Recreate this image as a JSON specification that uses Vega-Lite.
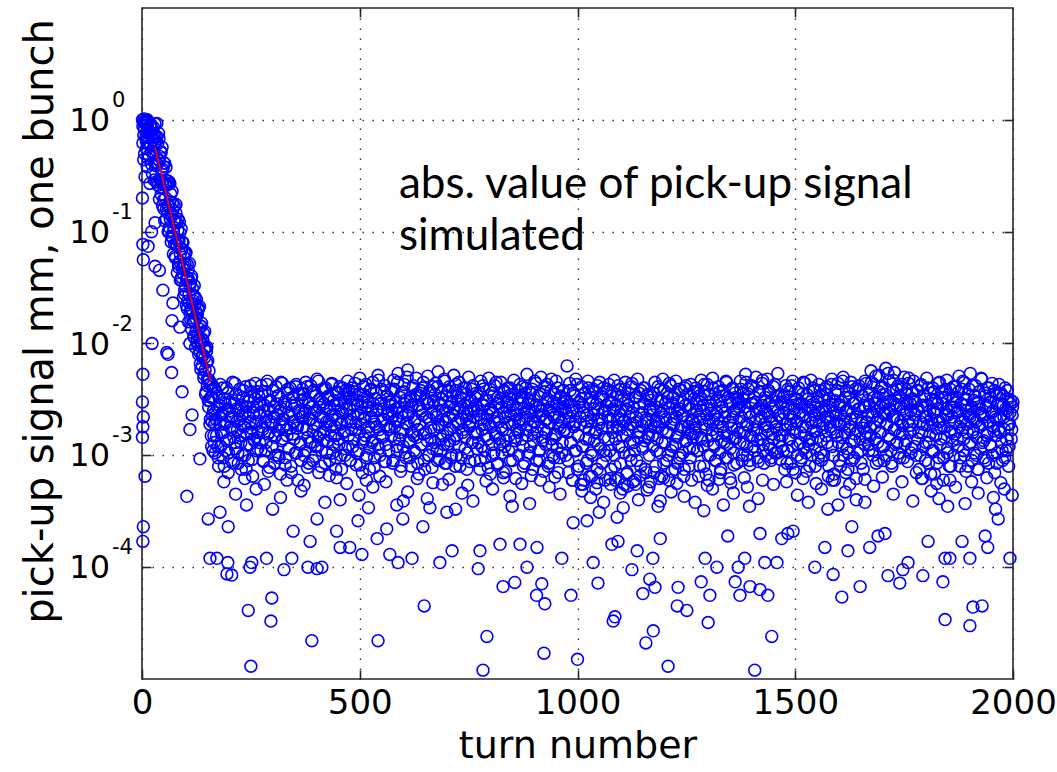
{
  "$schema": "https://vega.github.io/schema/vega-lite/v6.json",
  "width": 871,
  "height": 671,
  "autosize": {"type": "none"},
  "padding": {"left": 142, "top": 8, "right": 44, "bottom": 93},
  "background": "white",
  "config": {
    "view": {"stroke": "#262626", "strokeWidth": 1.6},
    "font": "DejaVu Sans"
  },
  "datasets": {
    "signal": [
      {"t":1,"v":1.0},{"t":2,"v":0.62},{"t":3,"v":0.95},{"t":4,"v":0.44},{"t":5,"v":1.02},{"t":6,"v":0.82},{"t":7,"v":0.31},{"t":8,"v":0.98},{"t":9,"v":0.7},{"t":10,"v":0.55},
      {"t":11,"v":0.9},{"t":12,"v":0.38},{"t":13,"v":0.85},{"t":14,"v":0.62},{"t":15,"v":0.96},{"t":16,"v":0.48},{"t":17,"v":0.78},{"t":18,"v":0.27},{"t":19,"v":0.88},{"t":20,"v":0.58},
      {"t":21,"v":0.72},{"t":22,"v":0.4},{"t":23,"v":0.83},{"t":24,"v":0.33},{"t":25,"v":0.66},{"t":26,"v":0.5},{"t":27,"v":0.75},{"t":28,"v":0.29},{"t":29,"v":0.6},
      {"t":30,"v":0.92},{"t":31,"v":0.39},{"t":32,"v":0.64},{"t":33,"v":0.28},{"t":34,"v":0.93},{"t":35,"v":0.4},{"t":36,"v":0.61},{"t":37,"v":0.26},{"t":38,"v":0.44},{"t":39,"v":0.68},
      {"t":40,"v":0.195},{"t":41,"v":0.47},{"t":42,"v":0.29},{"t":43,"v":0.52},{"t":44,"v":0.215},{"t":45,"v":0.35},{"t":46,"v":0.57},{"t":47,"v":0.171},{"t":48,"v":0.27},{"t":49,"v":0.385},
      {"t":50,"v":0.194},{"t":51,"v":0.41},{"t":52,"v":0.125},{"t":53,"v":0.265},{"t":54,"v":0.2},{"t":55,"v":0.376},{"t":56,"v":0.13},{"t":57,"v":0.26},{"t":58,"v":0.148},{"t":59,"v":0.268},
      {"t":60,"v":0.1},{"t":61,"v":0.175},{"t":62,"v":0.28},{"t":63,"v":0.109},{"t":64,"v":0.186},{"t":65,"v":0.13},{"t":66,"v":0.217},{"t":67,"v":0.081},{"t":68,"v":0.143},{"t":69,"v":0.23},
      {"t":70,"v":0.088},{"t":71,"v":0.156},{"t":72,"v":0.063},{"t":73,"v":0.109},{"t":74,"v":0.171},{"t":75,"v":0.077},{"t":76,"v":0.125},{"t":77,"v":0.058},{"t":78,"v":0.175},{"t":79,"v":0.076},
      {"t":80,"v":0.12},{"t":81,"v":0.043},{"t":82,"v":0.083},{"t":83,"v":0.129},{"t":84,"v":0.048},{"t":85,"v":0.084},{"t":86,"v":0.054},{"t":87,"v":0.098},{"t":88,"v":0.037},{"t":89,"v":0.07},
      {"t":90,"v":0.106},{"t":91,"v":0.039},{"t":92,"v":0.07},{"t":93,"v":0.047},{"t":94,"v":0.08},{"t":95,"v":0.026},{"t":96,"v":0.049},{"t":97,"v":0.065},{"t":98,"v":0.0275},{"t":99,"v":0.051},
      {"t":100,"v":0.033},{"t":101,"v":0.065},{"t":102,"v":0.022},{"t":103,"v":0.039},{"t":104,"v":0.051},{"t":105,"v":0.024},{"t":106,"v":0.038},{"t":107,"v":0.0156},{"t":108,"v":0.0276},{"t":109,"v":0.052},
      {"t":110,"v":0.0187},{"t":111,"v":0.035},{"t":112,"v":0.02},{"t":113,"v":0.038},{"t":114,"v":0.0134},{"t":115,"v":0.0227},{"t":116,"v":0.031},{"t":117,"v":0.0158},{"t":118,"v":0.024},{"t":119,"v":0.0116},
      {"t":120,"v":0.033},{"t":121,"v":0.0158},{"t":122,"v":0.0226},{"t":123,"v":0.0092},{"t":124,"v":0.0168},{"t":125,"v":0.0248},{"t":126,"v":0.0105},{"t":127,"v":0.018},{"t":128,"v":0.0117},{"t":129,"v":0.02},
      {"t":130,"v":0.008},{"t":131,"v":0.0136},{"t":132,"v":0.0214},{"t":133,"v":0.0084},{"t":134,"v":0.0143},{"t":135,"v":0.0059},{"t":136,"v":0.0102},{"t":137,"v":0.0152},{"t":138,"v":0.0063},{"t":139,"v":0.0109},
      {"t":140,"v":0.0079},{"t":141,"v":0.0123},{"t":142,"v":0.0049},{"t":143,"v":0.009},{"t":144,"v":0.0128},{"t":145,"v":0.0058},{"t":146,"v":0.0091},{"t":147,"v":0.0037},{"t":148,"v":0.0068},{"t":149,"v":0.0093},
      {"t":150,"v":0.0042},{"t":151,"v":0.007},{"t":152,"v":0.0048},{"t":153,"v":0.0027},{"t":154,"v":0.0057},{"t":155,"v":0.0031},{"t":156,"v":0.0043},{"t":157,"v":0.0021},{"t":158,"v":0.0044},{"t":159,"v":0.0015},
      {"t":160,"v":0.0033},{"t":161,"v":0.002},{"t":162,"v":0.0042},{"t":163,"v":0.0011},{"t":164,"v":0.0025},{"t":165,"v":0.0015},{"t":166,"v":0.004},{"t":167,"v":0.0019},{"t":168,"v":0.00105},
      {"t":2,"v":0.88},{"t":4,"v":0.73},{"t":6,"v":0.5},{"t":8,"v":0.93},{"t":10,"v":0.64},{"t":12,"v":1.0},{"t":14,"v":0.45},{"t":16,"v":0.8},{"t":18,"v":0.6},{"t":20,"v":0.92},
      {"t":22,"v":0.52},{"t":24,"v":0.7},{"t":26,"v":0.86},{"t":28,"v":0.42},{"t":30,"v":0.72},{"t":32,"v":0.42},{"t":34,"v":0.71},{"t":36,"v":0.28},{"t":38,"v":0.76},{"t":40,"v":0.43},
      {"t":42,"v":0.25},{"t":44,"v":0.51},{"t":46,"v":0.28},{"t":48,"v":0.36},{"t":50,"v":0.16},{"t":52,"v":0.41},{"t":54,"v":0.26},{"t":56,"v":0.16},{"t":58,"v":0.285},{"t":60,"v":0.17},
      {"t":62,"v":0.1},{"t":64,"v":0.27},{"t":66,"v":0.14},{"t":68,"v":0.091},{"t":70,"v":0.18},{"t":72,"v":0.099},{"t":74,"v":0.128},{"t":76,"v":0.06},{"t":78,"v":0.147},{"t":80,"v":0.077},
      {"t":82,"v":0.103},{"t":84,"v":0.051},{"t":86,"v":0.122},{"t":88,"v":0.063},{"t":90,"v":0.037},{"t":92,"v":0.081},{"t":94,"v":0.0425},{"t":96,"v":0.059},{"t":98,"v":0.03},{"t":100,"v":0.064},
      {"t":102,"v":0.037},{"t":104,"v":0.0204},{"t":106,"v":0.045},{"t":108,"v":0.0232},{"t":110,"v":0.033},{"t":112,"v":0.0163},{"t":114,"v":0.04},{"t":116,"v":0.0198},{"t":118,"v":0.027},{"t":120,"v":0.0113},
      {"t":122,"v":0.026},{"t":124,"v":0.0128},{"t":126,"v":0.0188},{"t":128,"v":0.0097},{"t":130,"v":0.0206},{"t":132,"v":0.0107},{"t":134,"v":0.0066},{"t":136,"v":0.0143},{"t":138,"v":0.0076},{"t":140,"v":0.0106},
      {"t":142,"v":0.0053},{"t":144,"v":0.0075},{"t":146,"v":0.0035},{"t":148,"v":0.0085},{"t":150,"v":0.0048},{"t":152,"v":0.0031},{"t":154,"v":0.0047},{"t":156,"v":0.0019},{"t":158,"v":0.0033},{"t":160,"v":0.0012},
      {"t":162,"v":0.0023},{"t":164,"v":0.0032},{"t":166,"v":0.0013},{"t":168,"v":0.0024},
      {"t":1,"v":0.2},{"t":2,"v":0.077},{"t":3,"v":0.056},{"t":2,"v":0.0053},{"t":1,"v":0.003},{"t":3,"v":0.0022},{"t":2,"v":0.0018},{"t":1,"v":0.00145},{"t":7,"v":0.00065},{"t":3,"v":0.00023},{"t":2,"v":0.00017},{"t":23,"v":0.01},
      {"t":14,"v":0.074},{"t":30,"v":0.12},{"t":30,"v":0.049},{"t":48,"v":0.03},{"t":71,"v":0.023},{"t":69,"v":0.016},{"t":57,"v":0.0083},{"t":87,"v":0.014},{"t":110,"v":0.01},{"t":60,"v":0.008},
      {"t":68,"v":0.0055},{"t":92,"v":0.0037},{"t":115,"v":0.0023},{"t":110,"v":0.0017},{"t":133,"v":0.00093},{"t":103,"v":0.00043},{"t":40,"v":0.045},{"t":22,"v":0.1},
      {"t":170,"v":0.0021},{"t":172,"v":0.0036},{"t":174,"v":0.0012},{"t":176,"v":0.0008},{"t":178,"v":0.0028},{"t":180,"v":0.0043},{"t":182,"v":0.0016},{"t":184,"v":0.0024},{"t":186,"v":0.00095},{"t":188,"v":0.0032},
      {"t":190,"v":0.0019},{"t":192,"v":0.0011},{"t":194,"v":0.004},{"t":196,"v":0.0026},{"t":198,"v":0.0007},{"t":200,"v":0.0014},{"t":202,"v":0.003},{"t":204,"v":0.0022},{"t":206,"v":0.0017},{"t":208,"v":0.0045},
      {"t":210,"v":0.00085},{"t":212,"v":0.0029},{"t":214,"v":0.0013},{"t":216,"v":0.0035},{"t":218,"v":0.002},{"t":220,"v":0.00105},{"t":222,"v":0.0025},{"t":224,"v":0.0039},{"t":226,"v":0.0015},{"t":228,"v":0.00075},
      {"t":230,"v":0.0023},{"t":232,"v":0.0033},{"t":234,"v":0.0018},{"t":236,"v":0.001},{"t":238,"v":0.0041},{"t":240,"v":0.0027},{"t":242,"v":0.00125},{"t":244,"v":0.0009},{"t":246,"v":0.0031},{"t":248,"v":0.002},
      {"t":250,"v":0.0016},{"t":252,"v":0.0037},{"t":254,"v":0.00065},{"t":256,"v":0.0024},{"t":258,"v":0.00135},{"t":260,"v":0.0044},{"t":262,"v":0.0019},{"t":264,"v":0.0028},{"t":266,"v":0.00115},{"t":268,"v":0.0034},
      {"t":270,"v":0.0013},{"t":272,"v":0.0029},{"t":274,"v":0.0042},{"t":276,"v":0.0018},{"t":278,"v":0.0009},{"t":280,"v":0.0025},{"t":282,"v":0.0037},{"t":284,"v":0.0011},{"t":286,"v":0.0022},{"t":288,"v":0.0046},
      {"t":290,"v":0.00072},{"t":292,"v":0.0016},{"t":294,"v":0.0031},{"t":296,"v":0.002},{"t":298,"v":0.0012},{"t":300,"v":0.0038},{"t":302,"v":0.0027},{"t":304,"v":0.00085},{"t":306,"v":0.0015},{"t":308,"v":0.0041},
      {"t":310,"v":0.0023},{"t":312,"v":0.001},{"t":314,"v":0.0034},{"t":316,"v":0.0019},{"t":318,"v":0.00068},{"t":320,"v":0.0026},{"t":322,"v":0.0044},{"t":324,"v":0.0014},{"t":326,"v":0.0021},{"t":328,"v":0.003},
      {"t":330,"v":0.00095},{"t":332,"v":0.0017},{"t":334,"v":0.0036},{"t":336,"v":0.0024},{"t":338,"v":0.00115},{"t":340,"v":0.004},{"t":342,"v":0.0008},{"t":344,"v":0.0028},{"t":346,"v":0.00155},{"t":348,"v":0.0033},
      {"t":350,"v":0.002},{"t":352,"v":0.00105},{"t":354,"v":0.0043},{"t":356,"v":0.00175},{"t":358,"v":0.0006},{"t":360,"v":0.0025},{"t":362,"v":0.0035},{"t":364,"v":0.0013},{"t":366,"v":0.0022},{"t":368,"v":0.0039},
      {"t":370,"v":0.0035},{"t":372,"v":0.001},{"t":374,"v":0.0024},{"t":376,"v":0.0045},{"t":378,"v":0.0017},{"t":380,"v":0.00078},{"t":382,"v":0.003},{"t":384,"v":0.0021},{"t":386,"v":0.0013},{"t":388,"v":0.0042},
      {"t":390,"v":0.0027},{"t":392,"v":0.0009},{"t":394,"v":0.0019},{"t":396,"v":0.0036},{"t":398,"v":0.0012},{"t":400,"v":0.0025},{"t":402,"v":0.0048},{"t":404,"v":0.00145},{"t":406,"v":0.0007},{"t":408,"v":0.0032},
      {"t":410,"v":0.0022},{"t":412,"v":0.0011},{"t":414,"v":0.0039},{"t":416,"v":0.0016},{"t":418,"v":0.0029},{"t":420,"v":0.00085},{"t":422,"v":0.004},{"t":424,"v":0.002},{"t":426,"v":0.00135},{"t":428,"v":0.0034},
      {"t":430,"v":0.00066},{"t":432,"v":0.0026},{"t":434,"v":0.0018},{"t":436,"v":0.0044},{"t":438,"v":0.00105},{"t":440,"v":0.0031},{"t":442,"v":0.0023},{"t":444,"v":0.0015},{"t":446,"v":0.00095},{"t":448,"v":0.0037},
      {"t":450,"v":0.0028},{"t":452,"v":0.00125},{"t":454,"v":0.0041},{"t":456,"v":0.0019},{"t":458,"v":0.00075},{"t":460,"v":0.0024},{"t":462,"v":0.0033},{"t":464,"v":0.00165},{"t":466,"v":0.001},{"t":468,"v":0.0038},
      {"t":470,"v":0.0026},{"t":472,"v":0.0046},{"t":474,"v":0.0015},{"t":476,"v":0.0033},{"t":478,"v":0.0009},{"t":480,"v":0.002},{"t":482,"v":0.004},{"t":484,"v":0.0012},{"t":486,"v":0.0028},{"t":488,"v":0.0037},
      {"t":490,"v":0.0017},{"t":492,"v":0.00082},{"t":494,"v":0.0031},{"t":496,"v":0.0023},{"t":498,"v":0.0011},{"t":500,"v":0.0049},{"t":502,"v":0.0019},{"t":504,"v":0.0027},{"t":506,"v":0.0007},{"t":508,"v":0.0035},
      {"t":510,"v":0.0014},{"t":512,"v":0.0022},{"t":514,"v":0.0043},{"t":516,"v":0.001},{"t":518,"v":0.003},{"t":520,"v":0.0016},{"t":522,"v":0.00075},{"t":524,"v":0.0038},{"t":526,"v":0.0025},{"t":528,"v":0.0013},
      {"t":530,"v":0.0045},{"t":532,"v":0.002},{"t":534,"v":0.00095},{"t":536,"v":0.0032},{"t":538,"v":0.0018},{"t":540,"v":0.0026},{"t":542,"v":0.0052},{"t":544,"v":0.00115},{"t":546,"v":0.00065},{"t":548,"v":0.0029},
      {"t":550,"v":0.0039},{"t":552,"v":0.0015},{"t":554,"v":0.0021},{"t":556,"v":0.00088},{"t":558,"v":0.0042},{"t":560,"v":0.00125},{"t":562,"v":0.0034},{"t":564,"v":0.0024},{"t":566,"v":0.0017},{"t":568,"v":0.003},
      {"t":570,"v":0.0018},{"t":572,"v":0.0039},{"t":574,"v":0.0025},{"t":576,"v":0.00085},{"t":578,"v":0.0047},{"t":580,"v":0.0014},{"t":582,"v":0.003},{"t":584,"v":0.0021},{"t":586,"v":0.0011},{"t":588,"v":0.0054},
      {"t":590,"v":0.0027},{"t":592,"v":0.0016},{"t":594,"v":0.00072},{"t":596,"v":0.0036},{"t":598,"v":0.0022},{"t":600,"v":0.0012},{"t":602,"v":0.0043},{"t":604,"v":0.0031},{"t":606,"v":0.00095},{"t":608,"v":0.0019},
      {"t":610,"v":0.0058},{"t":612,"v":0.0024},{"t":614,"v":0.00135},{"t":616,"v":0.0033},{"t":618,"v":0.0008},{"t":620,"v":0.0028},{"t":622,"v":0.004},{"t":624,"v":0.0015},{"t":626,"v":0.002},{"t":628,"v":0.00105},
      {"t":630,"v":0.0049},{"t":632,"v":0.0035},{"t":634,"v":0.0017},{"t":636,"v":0.00068},{"t":638,"v":0.0026},{"t":640,"v":0.0038},{"t":642,"v":0.00125},{"t":644,"v":0.0023},{"t":646,"v":0.0045},{"t":648,"v":0.0009},
      {"t":650,"v":0.0032},{"t":652,"v":0.0016},{"t":654,"v":0.0029},{"t":656,"v":0.0051},{"t":658,"v":0.001},{"t":660,"v":0.0021},{"t":662,"v":0.0036},{"t":664,"v":0.0014},{"t":666,"v":0.00078},{"t":668,"v":0.0041},
      {"t":670,"v":0.0031},{"t":672,"v":0.0013},{"t":674,"v":0.0044},{"t":676,"v":0.0022},{"t":678,"v":0.0009},{"t":680,"v":0.0056},{"t":682,"v":0.0018},{"t":684,"v":0.0029},{"t":686,"v":0.0011},{"t":688,"v":0.0037},
      {"t":690,"v":0.0025},{"t":692,"v":0.0015},{"t":694,"v":0.0048},{"t":696,"v":0.00085},{"t":698,"v":0.002},{"t":700,"v":0.0034},{"t":702,"v":0.00125},{"t":704,"v":0.0027},{"t":706,"v":0.0041},{"t":708,"v":0.0017},
      {"t":710,"v":0.00095},{"t":712,"v":0.003},{"t":714,"v":0.0023},{"t":716,"v":0.0052},{"t":718,"v":0.0014},{"t":720,"v":0.0038},{"t":722,"v":0.001},{"t":724,"v":0.0026},{"t":726,"v":0.0019},{"t":728,"v":0.0045},
      {"t":730,"v":0.0008},{"t":732,"v":0.0033},{"t":734,"v":0.0021},{"t":736,"v":0.0016},{"t":738,"v":0.004},{"t":740,"v":0.0028},{"t":742,"v":0.00115},{"t":744,"v":0.0035},{"t":746,"v":0.00075},{"t":748,"v":0.0024},
      {"t":750,"v":0.005},{"t":752,"v":0.0018},{"t":754,"v":0.002},{"t":756,"v":0.0031},{"t":758,"v":0.0013},{"t":760,"v":0.0042},{"t":762,"v":0.0026},{"t":764,"v":0.0009},{"t":766,"v":0.00155},{"t":768,"v":0.0036},
      {"t":770,"v":0.0016},{"t":772,"v":0.0034},{"t":774,"v":0.0023},{"t":776,"v":0.00075},{"t":778,"v":0.0046},{"t":780,"v":0.0012},{"t":782,"v":0.0028},{"t":784,"v":0.0039},{"t":786,"v":0.0019},{"t":788,"v":0.00095},
      {"t":790,"v":0.0031},{"t":792,"v":0.0021},{"t":794,"v":0.0014},{"t":796,"v":0.0049},{"t":798,"v":0.0026},{"t":800,"v":0.00068},{"t":802,"v":0.0018},{"t":804,"v":0.0036},{"t":806,"v":0.0024},{"t":808,"v":0.00105},
      {"t":810,"v":0.0042},{"t":812,"v":0.0015},{"t":814,"v":0.0029},{"t":816,"v":0.00082},{"t":818,"v":0.0033},{"t":820,"v":0.002},{"t":822,"v":0.00125},{"t":824,"v":0.0045},{"t":826,"v":0.0027},{"t":828,"v":0.0017},
      {"t":830,"v":0.0007},{"t":832,"v":0.0038},{"t":834,"v":0.0022},{"t":836,"v":0.00135},{"t":838,"v":0.003},{"t":840,"v":0.004},{"t":842,"v":0.0011},{"t":844,"v":0.0025},{"t":846,"v":0.0009},{"t":848,"v":0.0035},
      {"t":850,"v":0.0019},{"t":852,"v":0.0028},{"t":854,"v":0.0047},{"t":856,"v":0.00145},{"t":858,"v":0.00062},{"t":860,"v":0.0023},{"t":862,"v":0.0032},{"t":864,"v":0.0016},{"t":866,"v":0.002},{"t":868,"v":0.0043},
      {"t":870,"v":0.0029},{"t":872,"v":0.0014},{"t":874,"v":0.0041},{"t":876,"v":0.0008},{"t":878,"v":0.0024},{"t":880,"v":0.0036},{"t":882,"v":0.0017},{"t":884,"v":0.0053},{"t":886,"v":0.001},{"t":888,"v":0.0026},
      {"t":890,"v":0.0031},{"t":892,"v":0.0012},{"t":894,"v":0.00066},{"t":896,"v":0.0039},{"t":898,"v":0.002},{"t":900,"v":0.00155},{"t":902,"v":0.0046},{"t":904,"v":0.0028},{"t":906,"v":0.0009},{"t":908,"v":0.0018},
      {"t":910,"v":0.0034},{"t":912,"v":0.0022},{"t":914,"v":0.0011},{"t":916,"v":0.005},{"t":918,"v":0.0025},{"t":920,"v":0.00135},{"t":922,"v":0.00072},{"t":924,"v":0.0037},{"t":926,"v":0.0021},{"t":928,"v":0.0016},
      {"t":930,"v":0.0043},{"t":932,"v":0.003},{"t":934,"v":0.00085},{"t":936,"v":0.00195},{"t":938,"v":0.0027},{"t":940,"v":0.0048},{"t":942,"v":0.00125},{"t":944,"v":0.0023},{"t":946,"v":0.00095},{"t":948,"v":0.0035},
      {"t":950,"v":0.0015},{"t":952,"v":0.0029},{"t":954,"v":0.004},{"t":956,"v":0.0007},{"t":958,"v":0.0022},{"t":960,"v":0.00175},{"t":962,"v":0.0033},{"t":964,"v":0.00105},{"t":966,"v":0.0026},{"t":968,"v":0.0038},
      {"t":970,"v":0.0017},{"t":972,"v":0.0032},{"t":974,"v":0.0024},{"t":976,"v":0.0063},{"t":978,"v":0.0009},{"t":980,"v":0.002},{"t":982,"v":0.0044},{"t":984,"v":0.0013},{"t":986,"v":0.0028},{"t":988,"v":0.0006},
      {"t":990,"v":0.0036},{"t":992,"v":0.0019},{"t":994,"v":0.0011},{"t":996,"v":0.0048},{"t":998,"v":0.0025},{"t":1000,"v":0.00075},{"t":1002,"v":0.0015},{"t":1004,"v":0.003},{"t":1006,"v":0.0022},{"t":1008,"v":0.00055},
      {"t":1010,"v":0.0041},{"t":1012,"v":0.0012},{"t":1014,"v":0.0027},{"t":1016,"v":0.0035},{"t":1018,"v":0.0018},{"t":1020,"v":0.00085},{"t":1022,"v":0.0023},{"t":1024,"v":0.0046},{"t":1026,"v":0.0014},{"t":1028,"v":0.00065},
      {"t":1030,"v":0.0033},{"t":1032,"v":0.002},{"t":1034,"v":0.001},{"t":1036,"v":0.0039},{"t":1038,"v":0.0026},{"t":1040,"v":0.0016},{"t":1042,"v":0.0005},{"t":1044,"v":0.0029},{"t":1046,"v":0.0042},{"t":1048,"v":0.00125},
      {"t":1050,"v":0.0021},{"t":1052,"v":0.0007},{"t":1054,"v":0.0034},{"t":1056,"v":0.00175},{"t":1058,"v":0.0024},{"t":1060,"v":0.004},{"t":1062,"v":0.0011},{"t":1064,"v":0.0006},{"t":1066,"v":0.0028},{"t":1068,"v":0.0037},
      {"t":1070,"v":0.0022},{"t":1072,"v":0.0043},{"t":1074,"v":0.0011},{"t":1076,"v":0.00055},{"t":1078,"v":0.003},{"t":1080,"v":0.0018},{"t":1082,"v":0.0026},{"t":1084,"v":0.0047},{"t":1086,"v":0.0008},{"t":1088,"v":0.0014},
      {"t":1090,"v":0.0035},{"t":1092,"v":0.0021},{"t":1094,"v":0.00062},{"t":1096,"v":0.0017},{"t":1098,"v":0.0039},{"t":1100,"v":0.0025},{"t":1102,"v":0.0012},{"t":1104,"v":0.0005},{"t":1106,"v":0.0032},{"t":1108,"v":0.002},
      {"t":1110,"v":0.0045},{"t":1112,"v":0.0015},{"t":1114,"v":0.0007},{"t":1116,"v":0.0028},{"t":1118,"v":0.0036},{"t":1120,"v":0.001},{"t":1122,"v":0.0019},{"t":1124,"v":0.0041},{"t":1126,"v":0.0024},{"t":1128,"v":0.00058},
      {"t":1130,"v":0.0013},{"t":1132,"v":0.0033},{"t":1134,"v":0.0022},{"t":1136,"v":0.0009},{"t":1138,"v":0.0048},{"t":1140,"v":0.0016},{"t":1142,"v":0.0027},{"t":1144,"v":0.00066},{"t":1146,"v":0.0038},{"t":1148,"v":0.00185},
      {"t":1150,"v":0.00115},{"t":1152,"v":0.0029},{"t":1154,"v":0.004},{"t":1156,"v":0.00075},{"t":1158,"v":0.002},{"t":1160,"v":0.0034},{"t":1162,"v":0.00145},{"t":1164,"v":0.00052},{"t":1166,"v":0.0025},{"t":1168,"v":0.0031},
      {"t":1170,"v":0.0034},{"t":1172,"v":0.0015},{"t":1174,"v":0.0026},{"t":1176,"v":0.0007},{"t":1178,"v":0.0045},{"t":1180,"v":0.002},{"t":1182,"v":0.0011},{"t":1184,"v":0.0031},{"t":1186,"v":0.0018},{"t":1188,"v":0.00062},
      {"t":1190,"v":0.0039},{"t":1192,"v":0.0024},{"t":1194,"v":0.0013},{"t":1196,"v":0.0048},{"t":1198,"v":0.00085},{"t":1200,"v":0.0022},{"t":1202,"v":0.0029},{"t":1204,"v":0.0016},{"t":1206,"v":0.0036},{"t":1208,"v":0.001},
      {"t":1210,"v":0.0006},{"t":1212,"v":0.0027},{"t":1214,"v":0.0042},{"t":1216,"v":0.0019},{"t":1218,"v":0.0012},{"t":1220,"v":0.0033},{"t":1222,"v":0.0021},{"t":1224,"v":0.00075},{"t":1226,"v":0.0046},{"t":1228,"v":0.00145},
      {"t":1230,"v":0.0025},{"t":1232,"v":0.003},{"t":1234,"v":0.00095},{"t":1236,"v":0.0017},{"t":1238,"v":0.0038},{"t":1240,"v":0.0023},{"t":1242,"v":0.00105},{"t":1244,"v":0.00065},{"t":1246,"v":0.004},{"t":1248,"v":0.0028},
      {"t":1250,"v":0.00135},{"t":1252,"v":0.0035},{"t":1254,"v":0.0018},{"t":1256,"v":0.0008},{"t":1258,"v":0.0026},{"t":1260,"v":0.0043},{"t":1262,"v":0.00155},{"t":1264,"v":0.002},{"t":1266,"v":0.00115},{"t":1268,"v":0.0032},
      {"t":1270,"v":0.0019},{"t":1272,"v":0.004},{"t":1274,"v":0.0025},{"t":1276,"v":0.0011},{"t":1278,"v":0.00065},{"t":1280,"v":0.0034},{"t":1282,"v":0.0021},{"t":1284,"v":0.0047},{"t":1286,"v":0.0014},{"t":1288,"v":0.0028},
      {"t":1290,"v":0.0008},{"t":1292,"v":0.0037},{"t":1294,"v":0.0017},{"t":1296,"v":0.0023},{"t":1298,"v":0.0043},{"t":1300,"v":0.001},{"t":1302,"v":0.0006},{"t":1304,"v":0.003},{"t":1306,"v":0.0026},{"t":1308,"v":0.0015},
      {"t":1310,"v":0.0049},{"t":1312,"v":0.002},{"t":1314,"v":0.0012},{"t":1316,"v":0.0035},{"t":1318,"v":0.0009},{"t":1320,"v":0.0024},{"t":1322,"v":0.0018},{"t":1324,"v":0.0041},{"t":1326,"v":0.0031},{"t":1328,"v":0.0007},
      {"t":1330,"v":0.00135},{"t":1332,"v":0.0027},{"t":1334,"v":0.0038},{"t":1336,"v":0.0016},{"t":1338,"v":0.0022},{"t":1340,"v":0.00095},{"t":1342,"v":0.0045},{"t":1344,"v":0.00125},{"t":1346,"v":0.0033},{"t":1348,"v":0.002},
      {"t":1350,"v":0.00062},{"t":1352,"v":0.0029},{"t":1354,"v":0.00175},{"t":1356,"v":0.004},{"t":1358,"v":0.00105},{"t":1360,"v":0.0025},{"t":1362,"v":0.0036},{"t":1364,"v":0.00145},{"t":1366,"v":0.00085},{"t":1368,"v":0.0032},
      {"t":1370,"v":0.003},{"t":1372,"v":0.0016},{"t":1374,"v":0.0046},{"t":1376,"v":0.0022},{"t":1378,"v":0.0009},{"t":1380,"v":0.0035},{"t":1382,"v":0.0013},{"t":1384,"v":0.0027},{"t":1386,"v":0.0053},{"t":1388,"v":0.0019},
      {"t":1390,"v":0.001},{"t":1392,"v":0.0039},{"t":1394,"v":0.0024},{"t":1396,"v":0.00082},{"t":1398,"v":0.0015},{"t":1400,"v":0.0042},{"t":1402,"v":0.0029},{"t":1404,"v":0.0012},{"t":1406,"v":0.0033},{"t":1408,"v":0.002},
      {"t":1410,"v":0.005},{"t":1412,"v":0.0017},{"t":1414,"v":0.00095},{"t":1416,"v":0.0026},{"t":1418,"v":0.0037},{"t":1420,"v":0.0014},{"t":1422,"v":0.0022},{"t":1424,"v":0.0044},{"t":1426,"v":0.0011},{"t":1428,"v":0.00085},
      {"t":1430,"v":0.0031},{"t":1432,"v":0.0025},{"t":1434,"v":0.0018},{"t":1436,"v":0.0048},{"t":1438,"v":0.00125},{"t":1440,"v":0.0029},{"t":1442,"v":0.0036},{"t":1444,"v":0.0009},{"t":1446,"v":0.002},{"t":1448,"v":0.00155},
      {"t":1450,"v":0.0041},{"t":1452,"v":0.0027},{"t":1454,"v":0.00105},{"t":1456,"v":0.0034},{"t":1458,"v":0.0017},{"t":1460,"v":0.0054},{"t":1462,"v":0.0023},{"t":1464,"v":0.00135},{"t":1466,"v":0.00092},{"t":1468,"v":0.003},
      {"t":1470,"v":0.0015},{"t":1472,"v":0.0033},{"t":1474,"v":0.0024},{"t":1476,"v":0.00075},{"t":1478,"v":0.0042},{"t":1480,"v":0.0019},{"t":1482,"v":0.0011},{"t":1484,"v":0.0028},{"t":1486,"v":0.0037},{"t":1488,"v":0.0014},
      {"t":1490,"v":0.00085},{"t":1492,"v":0.0022},{"t":1494,"v":0.0046},{"t":1496,"v":0.0017},{"t":1498,"v":0.0026},{"t":1500,"v":0.0007},{"t":1502,"v":0.0031},{"t":1504,"v":0.002},{"t":1506,"v":0.00125},{"t":1508,"v":0.004},
      {"t":1510,"v":0.0029},{"t":1512,"v":0.0016},{"t":1514,"v":0.00095},{"t":1516,"v":0.0035},{"t":1518,"v":0.0023},{"t":1520,"v":0.00115},{"t":1522,"v":0.0044},{"t":1524,"v":0.0018},{"t":1526,"v":0.00072},{"t":1528,"v":0.0027},
      {"t":1530,"v":0.0032},{"t":1532,"v":0.00135},{"t":1534,"v":0.0021},{"t":1536,"v":0.0047},{"t":1538,"v":0.001},{"t":1540,"v":0.0025},{"t":1542,"v":0.00165},{"t":1544,"v":0.0038},{"t":1546,"v":0.0008},{"t":1548,"v":0.002},
      {"t":1550,"v":0.003},{"t":1552,"v":0.00145},{"t":1554,"v":0.0043},{"t":1556,"v":0.0024},{"t":1558,"v":0.00105},{"t":1560,"v":0.0009},{"t":1562,"v":0.0034},{"t":1564,"v":0.0019},{"t":1566,"v":0.0026},{"t":1568,"v":0.0039},
      {"t":1570,"v":0.0025},{"t":1572,"v":0.0041},{"t":1574,"v":0.0013},{"t":1576,"v":0.00065},{"t":1578,"v":0.0032},{"t":1580,"v":0.002},{"t":1582,"v":0.0017},{"t":1584,"v":0.0048},{"t":1586,"v":0.0028},{"t":1588,"v":0.001},
      {"t":1590,"v":0.0006},{"t":1592,"v":0.0036},{"t":1594,"v":0.0023},{"t":1596,"v":0.0015},{"t":1598,"v":0.0044},{"t":1600,"v":0.0019},{"t":1602,"v":0.0027},{"t":1604,"v":0.0008},{"t":1606,"v":0.003},{"t":1608,"v":0.0012},
      {"t":1610,"v":0.005},{"t":1612,"v":0.0021},{"t":1614,"v":0.0016},{"t":1616,"v":0.0007},{"t":1618,"v":0.0038},{"t":1620,"v":0.0025},{"t":1622,"v":0.00105},{"t":1624,"v":0.0033},{"t":1626,"v":0.0018},{"t":1628,"v":0.0045},
      {"t":1630,"v":0.0009},{"t":1632,"v":0.0024},{"t":1634,"v":0.0029},{"t":1636,"v":0.00135},{"t":1638,"v":0.0039},{"t":1640,"v":0.00062},{"t":1642,"v":0.0022},{"t":1644,"v":0.00165},{"t":1646,"v":0.0042},{"t":1648,"v":0.0026},
      {"t":1650,"v":0.0011},{"t":1652,"v":0.0034},{"t":1654,"v":0.00195},{"t":1656,"v":0.00075},{"t":1658,"v":0.0028},{"t":1660,"v":0.0046},{"t":1662,"v":0.00145},{"t":1664,"v":0.002},{"t":1666,"v":0.0031},{"t":1668,"v":0.00125},
      {"t":1670,"v":0.0036},{"t":1672,"v":0.0018},{"t":1674,"v":0.0057},{"t":1676,"v":0.0024},{"t":1678,"v":0.001},{"t":1680,"v":0.0043},{"t":1682,"v":0.0029},{"t":1684,"v":0.0014},{"t":1686,"v":0.00085},{"t":1688,"v":0.0032},
      {"t":1690,"v":0.0021},{"t":1692,"v":0.0052},{"t":1694,"v":0.0016},{"t":1696,"v":0.0027},{"t":1698,"v":0.004},{"t":1700,"v":0.0012},{"t":1702,"v":0.0035},{"t":1704,"v":0.0009},{"t":1706,"v":0.0023},{"t":1708,"v":0.006},
      {"t":1710,"v":0.0019},{"t":1712,"v":0.003},{"t":1714,"v":0.0015},{"t":1716,"v":0.0046},{"t":1718,"v":0.0025},{"t":1720,"v":0.0011},{"t":1722,"v":0.0008},{"t":1724,"v":0.0038},{"t":1726,"v":0.0022},{"t":1728,"v":0.0055},
      {"t":1730,"v":0.0017},{"t":1732,"v":0.0028},{"t":1734,"v":0.0013},{"t":1736,"v":0.0042},{"t":1738,"v":0.0033},{"t":1740,"v":0.00095},{"t":1742,"v":0.002},{"t":1744,"v":0.0039},{"t":1746,"v":0.00155},{"t":1748,"v":0.0026},
      {"t":1750,"v":0.005},{"t":1752,"v":0.00125},{"t":1754,"v":0.0031},{"t":1756,"v":0.0024},{"t":1758,"v":0.00088},{"t":1760,"v":0.0044},{"t":1762,"v":0.00185},{"t":1764,"v":0.0029},{"t":1766,"v":0.00105},{"t":1768,"v":0.0036},
      {"t":1770,"v":0.002},{"t":1772,"v":0.0046},{"t":1774,"v":0.0012},{"t":1776,"v":0.003},{"t":1778,"v":0.0007},{"t":1780,"v":0.0025},{"t":1782,"v":0.0038},{"t":1784,"v":0.0016},{"t":1786,"v":0.001},{"t":1788,"v":0.0042},
      {"t":1790,"v":0.0027},{"t":1792,"v":0.00062},{"t":1794,"v":0.0019},{"t":1796,"v":0.0034},{"t":1798,"v":0.0022},{"t":1800,"v":0.0013},{"t":1802,"v":0.0049},{"t":1804,"v":0.0028},{"t":1806,"v":0.00085},{"t":1808,"v":0.0015},
      {"t":1810,"v":0.0036},{"t":1812,"v":0.0021},{"t":1814,"v":0.0011},{"t":1816,"v":0.004},{"t":1818,"v":0.0024},{"t":1820,"v":0.00068},{"t":1822,"v":0.0031},{"t":1824,"v":0.00175},{"t":1826,"v":0.0026},{"t":1828,"v":0.0044},
      {"t":1830,"v":0.00095},{"t":1832,"v":0.002},{"t":1834,"v":0.0014},{"t":1836,"v":0.0037},{"t":1838,"v":0.0029},{"t":1840,"v":0.0006},{"t":1842,"v":0.0018},{"t":1844,"v":0.0033},{"t":1846,"v":0.0023},{"t":1848,"v":0.0047},
      {"t":1850,"v":0.00115},{"t":1852,"v":0.0025},{"t":1854,"v":0.0008},{"t":1856,"v":0.0039},{"t":1858,"v":0.0016},{"t":1860,"v":0.0022},{"t":1862,"v":0.0032},{"t":1864,"v":0.001},{"t":1866,"v":0.0027},{"t":1868,"v":0.0041},
      {"t":1870,"v":0.0033},{"t":1872,"v":0.0014},{"t":1874,"v":0.0025},{"t":1876,"v":0.0051},{"t":1878,"v":0.0008},{"t":1880,"v":0.002},{"t":1882,"v":0.0039},{"t":1884,"v":0.0017},{"t":1886,"v":0.0011},{"t":1888,"v":0.0045},
      {"t":1890,"v":0.0028},{"t":1892,"v":0.00072},{"t":1894,"v":0.0019},{"t":1896,"v":0.0035},{"t":1898,"v":0.0023},{"t":1900,"v":0.00125},{"t":1902,"v":0.0054},{"t":1904,"v":0.0026},{"t":1906,"v":0.0009},{"t":1908,"v":0.0016},
      {"t":1910,"v":0.0031},{"t":1912,"v":0.0021},{"t":1914,"v":0.0042},{"t":1916,"v":0.001},{"t":1918,"v":0.0029},{"t":1920,"v":0.00075},{"t":1922,"v":0.0037},{"t":1924,"v":0.0018},{"t":1926,"v":0.0024},{"t":1928,"v":0.0048},
      {"t":1930,"v":0.0013},{"t":1932,"v":0.0022},{"t":1934,"v":0.00095},{"t":1936,"v":0.0034},{"t":1938,"v":0.0027},{"t":1940,"v":0.0015},{"t":1942,"v":0.004},{"t":1944,"v":0.00085},{"t":1946,"v":0.002},{"t":1948,"v":0.003},
      {"t":1950,"v":0.0012},{"t":1952,"v":0.0044},{"t":1954,"v":0.0025},{"t":1956,"v":0.00165},{"t":1958,"v":0.0007},{"t":1960,"v":0.0036},{"t":1962,"v":0.0021},{"t":1964,"v":0.00105},{"t":1966,"v":0.0028},{"t":1968,"v":0.0043},
      {"t":1970,"v":0.0022},{"t":1972,"v":0.0036},{"t":1974,"v":0.0013},{"t":1976,"v":0.0009},{"t":1978,"v":0.0028},{"t":1980,"v":0.0017},{"t":1982,"v":0.004},{"t":1984,"v":0.0011},{"t":1986,"v":0.0025},{"t":1988,"v":0.0032},
      {"t":1990,"v":0.0008},{"t":1992,"v":0.0019},{"t":1994,"v":0.0029},{"t":1996,"v":0.0014},{"t":1998,"v":0.0023},{"t":2000,"v":0.003},
      {"t":171,"v":0.0015},{"t":173,"v":0.0027},{"t":175,"v":0.00095},{"t":177,"v":0.0033},{"t":179,"v":0.0019},{"t":181,"v":0.0012},{"t":183,"v":0.0023},{"t":185,"v":0.004},{"t":187,"v":0.0016},{"t":189,"v":0.0008},
      {"t":191,"v":0.0029},{"t":193,"v":0.002},{"t":195,"v":0.00135},{"t":197,"v":0.0036},{"t":199,"v":0.00105},{"t":201,"v":0.0025},{"t":203,"v":0.0018},{"t":205,"v":0.0009},{"t":207,"v":0.0031},{"t":209,"v":0.0022},
      {"t":211,"v":0.00145},{"t":213,"v":0.0044},{"t":215,"v":0.00115},{"t":217,"v":0.0026},{"t":219,"v":0.0017},{"t":221,"v":0.00085},{"t":223,"v":0.0034},{"t":225,"v":0.0021},{"t":227,"v":0.0013},{"t":229,"v":0.0028},
      {"t":231,"v":0.001},{"t":233,"v":0.0038},{"t":235,"v":0.0019},{"t":237,"v":0.0024},{"t":239,"v":0.00075},{"t":241,"v":0.00155},{"t":243,"v":0.003},{"t":245,"v":0.0022},{"t":247,"v":0.00125},{"t":249,"v":0.0042},
      {"t":251,"v":0.00175},{"t":253,"v":0.00092},{"t":255,"v":0.0027},{"t":257,"v":0.0014},{"t":259,"v":0.0032},{"t":261,"v":0.002},{"t":263,"v":0.0011},{"t":265,"v":0.0037},{"t":267,"v":0.0016},{"t":269,"v":0.0023},
      {"t":271,"v":0.0024},{"t":273,"v":0.0011},{"t":275,"v":0.0035},{"t":277,"v":0.0017},{"t":279,"v":0.00088},{"t":281,"v":0.0028},{"t":283,"v":0.002},{"t":285,"v":0.0013},{"t":287,"v":0.0043},{"t":289,"v":0.00155},
      {"t":291,"v":0.0026},{"t":293,"v":0.00078},{"t":295,"v":0.0031},{"t":297,"v":0.0019},{"t":299,"v":0.0012},{"t":301,"v":0.0038},{"t":303,"v":0.0022},{"t":305,"v":0.00145},{"t":307,"v":0.001},{"t":309,"v":0.0029},
      {"t":311,"v":0.0034},{"t":313,"v":0.00165},{"t":315,"v":0.00095},{"t":317,"v":0.0025},{"t":319,"v":0.0045},{"t":321,"v":0.00135},{"t":323,"v":0.0021},{"t":325,"v":0.0018},{"t":327,"v":0.003},{"t":329,"v":0.00082},
      {"t":331,"v":0.0027},{"t":333,"v":0.0015},{"t":335,"v":0.0039},{"t":337,"v":0.00115},{"t":339,"v":0.0023},{"t":341,"v":0.00175},{"t":343,"v":0.0007},{"t":345,"v":0.0033},{"t":347,"v":0.002},{"t":349,"v":0.0014},
      {"t":351,"v":0.0028},{"t":353,"v":0.0041},{"t":355,"v":0.00105},{"t":357,"v":0.00185},{"t":359,"v":0.0036},{"t":361,"v":0.0024},{"t":363,"v":0.00125},{"t":365,"v":0.0009},{"t":367,"v":0.0031},{"t":369,"v":0.0022},
      {"t":371,"v":0.0018},{"t":373,"v":0.0032},{"t":375,"v":0.0011},{"t":377,"v":0.0025},{"t":379,"v":0.0041},{"t":381,"v":0.00145},{"t":383,"v":0.00085},{"t":385,"v":0.0029},{"t":387,"v":0.0021},{"t":389,"v":0.0013},
      {"t":391,"v":0.0037},{"t":393,"v":0.00165},{"t":395,"v":0.0024},{"t":397,"v":0.00098},{"t":399,"v":0.0034},{"t":401,"v":0.0019},{"t":403,"v":0.0012},{"t":405,"v":0.0046},{"t":407,"v":0.0027},{"t":409,"v":0.00155},
      {"t":411,"v":0.0008},{"t":413,"v":0.003},{"t":415,"v":0.0022},{"t":417,"v":0.00135},{"t":419,"v":0.0039},{"t":421,"v":0.0017},{"t":423,"v":0.0026},{"t":425,"v":0.00105},{"t":427,"v":0.0033},{"t":429,"v":0.002},
      {"t":431,"v":0.0009},{"t":433,"v":0.0015},{"t":435,"v":0.0043},{"t":437,"v":0.0023},{"t":439,"v":0.00125},{"t":441,"v":0.0028},{"t":443,"v":0.0018},{"t":445,"v":0.00075},{"t":447,"v":0.0036},{"t":449,"v":0.0021},
      {"t":451,"v":0.0014},{"t":453,"v":0.0031},{"t":455,"v":0.0025},{"t":457,"v":0.001},{"t":459,"v":0.00195},{"t":461,"v":0.004},{"t":463,"v":0.0016},{"t":465,"v":0.0029},{"t":467,"v":0.00115},{"t":469,"v":0.0035},
      {"t":471,"v":0.002},{"t":473,"v":0.0012},{"t":475,"v":0.0038},{"t":477,"v":0.0026},{"t":479,"v":0.0009},{"t":481,"v":0.0017},{"t":483,"v":0.0032},{"t":485,"v":0.0023},{"t":487,"v":0.0014},{"t":489,"v":0.0044},
      {"t":491,"v":0.00195},{"t":493,"v":0.00105},{"t":495,"v":0.0028},{"t":497,"v":0.0035},{"t":499,"v":0.0016},{"t":501,"v":0.00082},{"t":503,"v":0.0024},{"t":505,"v":0.003},{"t":507,"v":0.0013},{"t":509,"v":0.0041},
      {"t":511,"v":0.0021},{"t":513,"v":0.0015},{"t":515,"v":0.00095},{"t":517,"v":0.0033},{"t":519,"v":0.0027},{"t":521,"v":0.0018},{"t":523,"v":0.00115},{"t":525,"v":0.0039},{"t":527,"v":0.0022},{"t":529,"v":0.00135},
      {"t":531,"v":0.0029},{"t":533,"v":0.00078},{"t":535,"v":0.0019},{"t":537,"v":0.0036},{"t":539,"v":0.0025},{"t":541,"v":0.00125},{"t":543,"v":0.0047},{"t":545,"v":0.0017},{"t":547,"v":0.001},{"t":549,"v":0.0031},
      {"t":551,"v":0.002},{"t":553,"v":0.00145},{"t":555,"v":0.0026},{"t":557,"v":0.0037},{"t":559,"v":0.00088},{"t":561,"v":0.00185},{"t":563,"v":0.0034},{"t":565,"v":0.0023},{"t":567,"v":0.0011},{"t":569,"v":0.0028},
      {"t":571,"v":0.003},{"t":573,"v":0.0015},{"t":575,"v":0.0022},{"t":577,"v":0.0009},{"t":579,"v":0.0039},{"t":581,"v":0.0018},{"t":583,"v":0.0026},{"t":585,"v":0.0012},{"t":587,"v":0.0045},{"t":589,"v":0.002},
      {"t":591,"v":0.0014},{"t":593,"v":0.0033},{"t":595,"v":0.0008},{"t":597,"v":0.0024},{"t":599,"v":0.0017},{"t":601,"v":0.0037},{"t":603,"v":0.0029},{"t":605,"v":0.00105},{"t":607,"v":0.00195},{"t":609,"v":0.005},
      {"t":611,"v":0.0023},{"t":613,"v":0.0013},{"t":615,"v":0.00095},{"t":617,"v":0.0031},{"t":619,"v":0.0027},{"t":621,"v":0.0016},{"t":623,"v":0.0042},{"t":625,"v":0.0011},{"t":627,"v":0.0021},{"t":629,"v":0.0035},
      {"t":631,"v":0.00145},{"t":633,"v":0.00085},{"t":635,"v":0.0028},{"t":637,"v":0.0019},{"t":639,"v":0.0034},{"t":641,"v":0.00125},{"t":643,"v":0.0025},{"t":645,"v":0.004},{"t":647,"v":0.00155},{"t":649,"v":0.00075},
      {"t":651,"v":0.0032},{"t":653,"v":0.0022},{"t":655,"v":0.00135},{"t":657,"v":0.0029},{"t":659,"v":0.001},{"t":661,"v":0.0038},{"t":663,"v":0.00175},{"t":665,"v":0.0024},{"t":667,"v":0.00115},{"t":669,"v":0.003},
      {"t":671,"v":0.0017},{"t":673,"v":0.0035},{"t":675,"v":0.0023},{"t":677,"v":0.0011},{"t":679,"v":0.0041},{"t":681,"v":0.0019},{"t":683,"v":0.00092},{"t":685,"v":0.0028},{"t":687,"v":0.0014},{"t":689,"v":0.0032},
      {"t":691,"v":0.0021},{"t":693,"v":0.00125},{"t":695,"v":0.0046},{"t":697,"v":0.0025},{"t":699,"v":0.00085},{"t":701,"v":0.0016},{"t":703,"v":0.0038},{"t":705,"v":0.0022},{"t":707,"v":0.00135},{"t":709,"v":0.0029},
      {"t":711,"v":0.001},{"t":713,"v":0.0034},{"t":715,"v":0.0018},{"t":717,"v":0.0026},{"t":719,"v":0.0008},{"t":721,"v":0.0043},{"t":723,"v":0.0015},{"t":725,"v":0.002},{"t":727,"v":0.0031},{"t":729,"v":0.0012},
      {"t":731,"v":0.0027},{"t":733,"v":0.00095},{"t":735,"v":0.0036},{"t":737,"v":0.0017},{"t":739,"v":0.0024},{"t":741,"v":0.00145},{"t":743,"v":0.004},{"t":745,"v":0.0021},{"t":747,"v":0.00105},{"t":749,"v":0.003},
      {"t":751,"v":0.00185},{"t":753,"v":0.00088},{"t":755,"v":0.0025},{"t":757,"v":0.0039},{"t":759,"v":0.0013},{"t":761,"v":0.0022},{"t":763,"v":0.0016},{"t":765,"v":0.0033},{"t":767,"v":0.0028},{"t":769,"v":0.00115},
      {"t":771,"v":0.0025},{"t":773,"v":0.0013},{"t":775,"v":0.0036},{"t":777,"v":0.0009},{"t":779,"v":0.0021},{"t":781,"v":0.0017},{"t":783,"v":0.0042},{"t":785,"v":0.0028},{"t":787,"v":0.0011},{"t":789,"v":0.0015},
      {"t":791,"v":0.0031},{"t":793,"v":0.0023},{"t":795,"v":0.00078},{"t":797,"v":0.0019},{"t":799,"v":0.0039},{"t":801,"v":0.0026},{"t":803,"v":0.00125},{"t":805,"v":0.001},{"t":807,"v":0.0034},{"t":809,"v":0.002},
      {"t":811,"v":0.0016},{"t":813,"v":0.0045},{"t":815,"v":0.0022},{"t":817,"v":0.00085},{"t":819,"v":0.0029},{"t":821,"v":0.0014},{"t":823,"v":0.0032},{"t":825,"v":0.0018},{"t":827,"v":0.00105},{"t":829,"v":0.0024},
      {"t":831,"v":0.0037},{"t":833,"v":0.0012},{"t":835,"v":0.00072},{"t":837,"v":0.0027},{"t":839,"v":0.00195},{"t":841,"v":0.003},{"t":843,"v":0.0015},{"t":845,"v":0.004},{"t":847,"v":0.0023},{"t":849,"v":0.00115},
      {"t":851,"v":0.0009},{"t":853,"v":0.0035},{"t":855,"v":0.002},{"t":857,"v":0.00135},{"t":859,"v":0.0026},{"t":861,"v":0.0017},{"t":863,"v":0.0038},{"t":865,"v":0.001},{"t":867,"v":0.0021},{"t":869,"v":0.0033},
      {"t":871,"v":0.0019},{"t":873,"v":0.0033},{"t":875,"v":0.0012},{"t":877,"v":0.0026},{"t":879,"v":0.00085},{"t":881,"v":0.004},{"t":883,"v":0.0022},{"t":885,"v":0.0015},{"t":887,"v":0.0029},{"t":889,"v":0.00105},
      {"t":891,"v":0.0036},{"t":893,"v":0.0018},{"t":895,"v":0.0024},{"t":897,"v":0.00075},{"t":899,"v":0.00135},{"t":901,"v":0.0031},{"t":903,"v":0.002},{"t":905,"v":0.0044},{"t":907,"v":0.0016},{"t":909,"v":0.0027},
      {"t":911,"v":0.0011},{"t":913,"v":0.0009},{"t":915,"v":0.0035},{"t":917,"v":0.0023},{"t":919,"v":0.00145},{"t":921,"v":0.0028},{"t":923,"v":0.0017},{"t":925,"v":0.0041},{"t":927,"v":0.00125},{"t":929,"v":0.0021},
      {"t":931,"v":0.0032},{"t":933,"v":0.0008},{"t":935,"v":0.00195},{"t":937,"v":0.0025},{"t":939,"v":0.0038},{"t":941,"v":0.0014},{"t":943,"v":0.001},{"t":945,"v":0.003},{"t":947,"v":0.0022},{"t":949,"v":0.00155},
      {"t":951,"v":0.0046},{"t":953,"v":0.00115},{"t":955,"v":0.0026},{"t":957,"v":0.00185},{"t":959,"v":0.00095},{"t":961,"v":0.0034},{"t":963,"v":0.002},{"t":965,"v":0.0013},{"t":967,"v":0.0029},{"t":969,"v":0.00165},
      {"t":971,"v":0.0026},{"t":973,"v":0.001},{"t":975,"v":0.0031},{"t":977,"v":0.0016},{"t":979,"v":0.0007},{"t":981,"v":0.0022},{"t":983,"v":0.0038},{"t":985,"v":0.0013},{"t":987,"v":0.0025},{"t":989,"v":0.0006},
      {"t":991,"v":0.0018},{"t":993,"v":0.0034},{"t":995,"v":0.002},{"t":997,"v":0.0011},{"t":999,"v":0.0043},{"t":1001,"v":0.0015},{"t":1003,"v":0.0008},{"t":1005,"v":0.0027},{"t":1007,"v":0.0019},{"t":1009,"v":0.0032},
      {"t":1011,"v":0.0012},{"t":1013,"v":0.00055},{"t":1015,"v":0.0024},{"t":1017,"v":0.0036},{"t":1019,"v":0.0014},{"t":1021,"v":0.002},{"t":1023,"v":0.0009},{"t":1025,"v":0.004},{"t":1027,"v":0.0017},{"t":1029,"v":0.0029},
      {"t":1031,"v":0.00105},{"t":1033,"v":0.00065},{"t":1035,"v":0.003},{"t":1037,"v":0.0023},{"t":1039,"v":0.00135},{"t":1041,"v":0.0037},{"t":1043,"v":0.0016},{"t":1045,"v":0.00075},{"t":1047,"v":0.0026},{"t":1049,"v":0.0019},
      {"t":1051,"v":0.0045},{"t":1053,"v":0.00115},{"t":1055,"v":0.0021},{"t":1057,"v":0.00085},{"t":1059,"v":0.0033},{"t":1061,"v":0.00145},{"t":1063,"v":0.0025},{"t":1065,"v":0.001},{"t":1067,"v":0.0039},{"t":1069,"v":0.0018},
      {"t":1071,"v":0.0014},{"t":1073,"v":0.003},{"t":1075,"v":0.0021},{"t":1077,"v":0.00075},{"t":1079,"v":0.0037},{"t":1081,"v":0.0016},{"t":1083,"v":0.0025},{"t":1085,"v":0.001},{"t":1087,"v":0.0006},{"t":1089,"v":0.0028},
      {"t":1091,"v":0.0018},{"t":1093,"v":0.0042},{"t":1095,"v":0.0012},{"t":1097,"v":0.0023},{"t":1099,"v":0.00085},{"t":1101,"v":0.0034},{"t":1103,"v":0.0015},{"t":1105,"v":0.002},{"t":1107,"v":0.00105},{"t":1109,"v":0.0039},
      {"t":1111,"v":0.0026},{"t":1113,"v":0.00068},{"t":1115,"v":0.0017},{"t":1117,"v":0.0031},{"t":1119,"v":0.0022},{"t":1121,"v":0.0013},{"t":1123,"v":0.0009},{"t":1125,"v":0.0044},{"t":1127,"v":0.0019},{"t":1129,"v":0.0027},
      {"t":1131,"v":0.0011},{"t":1133,"v":0.00055},{"t":1135,"v":0.0033},{"t":1137,"v":0.002},{"t":1139,"v":0.00145},{"t":1141,"v":0.0036},{"t":1143,"v":0.00165},{"t":1145,"v":0.0008},{"t":1147,"v":0.0024},{"t":1149,"v":0.0012},
      {"t":1151,"v":0.004},{"t":1153,"v":0.0029},{"t":1155,"v":0.00135},{"t":1157,"v":0.0007},{"t":1159,"v":0.0021},{"t":1161,"v":0.0035},{"t":1163,"v":0.00155},{"t":1165,"v":0.001},{"t":1167,"v":0.0026},{"t":1169,"v":0.00185},
      {"t":1171,"v":0.0023},{"t":1173,"v":0.0012},{"t":1175,"v":0.0036},{"t":1177,"v":0.0018},{"t":1179,"v":0.0008},{"t":1181,"v":0.0027},{"t":1183,"v":0.0014},{"t":1185,"v":0.0041},{"t":1187,"v":0.002},{"t":1189,"v":0.00105},
      {"t":1191,"v":0.0031},{"t":1193,"v":0.00065},{"t":1195,"v":0.0017},{"t":1197,"v":0.0025},{"t":1199,"v":0.0038},{"t":1201,"v":0.0013},{"t":1203,"v":0.0021},{"t":1205,"v":0.0009},{"t":1207,"v":0.0033},{"t":1209,"v":0.0016},
      {"t":1211,"v":0.0044},{"t":1213,"v":0.0024},{"t":1215,"v":0.0011},{"t":1217,"v":0.00072},{"t":1219,"v":0.0029},{"t":1221,"v":0.0019},{"t":1223,"v":0.0035},{"t":1225,"v":0.00125},{"t":1227,"v":0.0022},{"t":1229,"v":0.00085},
      {"t":1231,"v":0.0015},{"t":1233,"v":0.0039},{"t":1235,"v":0.0026},{"t":1237,"v":0.001},{"t":1239,"v":0.0018},{"t":1241,"v":0.003},{"t":1243,"v":0.0023},{"t":1245,"v":0.00075},{"t":1247,"v":0.00135},{"t":1249,"v":0.0042},
      {"t":1251,"v":0.002},{"t":1253,"v":0.0016},{"t":1255,"v":0.0028},{"t":1257,"v":0.00115},{"t":1259,"v":0.00095},{"t":1261,"v":0.0034},{"t":1263,"v":0.0021},{"t":1265,"v":0.00145},{"t":1267,"v":0.0037},{"t":1269,"v":0.00175},
      {"t":1271,"v":0.0016},{"t":1273,"v":0.0029},{"t":1275,"v":0.0011},{"t":1277,"v":0.0038},{"t":1279,"v":0.0022},{"t":1281,"v":0.0008},{"t":1283,"v":0.00145},{"t":1285,"v":0.0032},{"t":1287,"v":0.0025},{"t":1289,"v":0.0012},
      {"t":1291,"v":0.0043},{"t":1293,"v":0.0019},{"t":1295,"v":0.00068},{"t":1297,"v":0.0026},{"t":1299,"v":0.00135},{"t":1301,"v":0.0035},{"t":1303,"v":0.002},{"t":1305,"v":0.001},{"t":1307,"v":0.0028},{"t":1309,"v":0.0017},
      {"t":1311,"v":0.004},{"t":1313,"v":0.00125},{"t":1315,"v":0.0023},{"t":1317,"v":0.0009},{"t":1319,"v":0.0031},{"t":1321,"v":0.00155},{"t":1323,"v":0.0021},{"t":1325,"v":0.0037},{"t":1327,"v":0.00105},{"t":1329,"v":0.00075},
      {"t":1331,"v":0.0027},{"t":1333,"v":0.0018},{"t":1335,"v":0.0034},{"t":1337,"v":0.0013},{"t":1339,"v":0.0024},{"t":1341,"v":0.0046},{"t":1343,"v":0.0015},{"t":1345,"v":0.00095},{"t":1347,"v":0.002},{"t":1349,"v":0.003},
      {"t":1351,"v":0.00115},{"t":1353,"v":0.00185},{"t":1355,"v":0.0039},{"t":1357,"v":0.0022},{"t":1359,"v":0.00082},{"t":1361,"v":0.0014},{"t":1363,"v":0.0033},{"t":1365,"v":0.0026},{"t":1367,"v":0.0017},{"t":1369,"v":0.0029},
      {"t":1371,"v":0.0027},{"t":1373,"v":0.0013},{"t":1375,"v":0.0039},{"t":1377,"v":0.002},{"t":1379,"v":0.001},{"t":1381,"v":0.0032},{"t":1383,"v":0.0016},{"t":1385,"v":0.0024},{"t":1387,"v":0.0045},{"t":1389,"v":0.0012},
      {"t":1391,"v":0.00185},{"t":1393,"v":0.0035},{"t":1395,"v":0.0009},{"t":1397,"v":0.0022},{"t":1399,"v":0.0029},{"t":1401,"v":0.00145},{"t":1403,"v":0.0041},{"t":1405,"v":0.0017},{"t":1407,"v":0.0011},{"t":1409,"v":0.003},
      {"t":1411,"v":0.0025},{"t":1413,"v":0.00135},{"t":1415,"v":0.00088},{"t":1417,"v":0.0037},{"t":1419,"v":0.0021},{"t":1421,"v":0.00155},{"t":1423,"v":0.0028},{"t":1425,"v":0.0047},{"t":1427,"v":0.00125},{"t":1429,"v":0.0019},
      {"t":1431,"v":0.0033},{"t":1433,"v":0.001},{"t":1435,"v":0.0024},{"t":1437,"v":0.00165},{"t":1439,"v":0.0038},{"t":1441,"v":0.0022},{"t":1443,"v":0.00115},{"t":1445,"v":0.00095},{"t":1447,"v":0.0031},{"t":1449,"v":0.0026},
      {"t":1451,"v":0.0014},{"t":1453,"v":0.0043},{"t":1455,"v":0.0018},{"t":1457,"v":0.002},{"t":1459,"v":0.00105},{"t":1461,"v":0.0034},{"t":1463,"v":0.0023},{"t":1465,"v":0.0015},{"t":1467,"v":0.0029},{"t":1469,"v":0.0012},
      {"t":1471,"v":0.0021},{"t":1473,"v":0.0011},{"t":1475,"v":0.0034},{"t":1477,"v":0.0017},{"t":1479,"v":0.0026},{"t":1481,"v":0.00085},{"t":1483,"v":0.0039},{"t":1485,"v":0.0014},{"t":1487,"v":0.0023},{"t":1489,"v":0.0019},
      {"t":1491,"v":0.0042},{"t":1493,"v":0.0012},{"t":1495,"v":0.00075},{"t":1497,"v":0.0028},{"t":1499,"v":0.0016},{"t":1501,"v":0.0032},{"t":1503,"v":0.002},{"t":1505,"v":0.001},{"t":1507,"v":0.0037},{"t":1509,"v":0.0024},
      {"t":1511,"v":0.0013},{"t":1513,"v":0.0009},{"t":1515,"v":0.0029},{"t":1517,"v":0.0018},{"t":1519,"v":0.0045},{"t":1521,"v":0.0015},{"t":1523,"v":0.0022},{"t":1525,"v":0.00105},{"t":1527,"v":0.0035},{"t":1529,"v":0.0026},
      {"t":1531,"v":0.00125},{"t":1533,"v":0.0008},{"t":1535,"v":0.003},{"t":1537,"v":0.00195},{"t":1539,"v":0.0014},{"t":1541,"v":0.004},{"t":1543,"v":0.0023},{"t":1545,"v":0.00115},{"t":1547,"v":0.0027},{"t":1549,"v":0.00165},
      {"t":1551,"v":0.0033},{"t":1553,"v":0.00095},{"t":1555,"v":0.002},{"t":1557,"v":0.0038},{"t":1559,"v":0.00135},{"t":1561,"v":0.0025},{"t":1563,"v":0.00175},{"t":1565,"v":0.001},{"t":1567,"v":0.0031},{"t":1569,"v":0.0022},
      {"t":1571,"v":0.0015},{"t":1573,"v":0.0035},{"t":1575,"v":0.0022},{"t":1577,"v":0.0008},{"t":1579,"v":0.0027},{"t":1581,"v":0.0018},{"t":1583,"v":0.0043},{"t":1585,"v":0.0012},{"t":1587,"v":0.0024},{"t":1589,"v":0.00068},
      {"t":1591,"v":0.0031},{"t":1593,"v":0.0016},{"t":1595,"v":0.002},{"t":1597,"v":0.0038},{"t":1599,"v":0.0013},{"t":1601,"v":0.0009},{"t":1603,"v":0.0028},{"t":1605,"v":0.0023},{"t":1607,"v":0.00145},{"t":1609,"v":0.0046},
      {"t":1611,"v":0.001},{"t":1613,"v":0.0019},{"t":1615,"v":0.0033},{"t":1617,"v":0.0025},{"t":1619,"v":0.00115},{"t":1621,"v":0.00075},{"t":1623,"v":0.0036},{"t":1625,"v":0.0017},{"t":1627,"v":0.0021},{"t":1629,"v":0.00135},
      {"t":1631,"v":0.0041},{"t":1633,"v":0.0029},{"t":1635,"v":0.00095},{"t":1637,"v":0.00155},{"t":1639,"v":0.003},{"t":1641,"v":0.0022},{"t":1643,"v":0.00105},{"t":1645,"v":0.0026},{"t":1647,"v":0.0039},{"t":1649,"v":0.0014},
      {"t":1651,"v":0.00085},{"t":1653,"v":0.002},{"t":1655,"v":0.0034},{"t":1657,"v":0.00175},{"t":1659,"v":0.00125},{"t":1661,"v":0.0027},{"t":1663,"v":0.0044},{"t":1665,"v":0.0016},{"t":1667,"v":0.0023},{"t":1669,"v":0.0011},
      {"t":1671,"v":0.0028},{"t":1673,"v":0.0015},{"t":1675,"v":0.0045},{"t":1677,"v":0.0022},{"t":1679,"v":0.0011},{"t":1681,"v":0.0033},{"t":1683,"v":0.0018},{"t":1685,"v":0.0051},{"t":1687,"v":0.0025},{"t":1689,"v":0.0013},
      {"t":1691,"v":0.0009},{"t":1693,"v":0.0037},{"t":1695,"v":0.002},{"t":1697,"v":0.0016},{"t":1699,"v":0.0041},{"t":1701,"v":0.0029},{"t":1703,"v":0.0012},{"t":1705,"v":0.0024},{"t":1707,"v":0.0035},{"t":1709,"v":0.001},
      {"t":1711,"v":0.0019},{"t":1713,"v":0.0054},{"t":1715,"v":0.0026},{"t":1717,"v":0.0014},{"t":1719,"v":0.0031},{"t":1721,"v":0.00085},{"t":1723,"v":0.0022},{"t":1725,"v":0.0047},{"t":1727,"v":0.0017},{"t":1729,"v":0.0029},
      {"t":1731,"v":0.00125},{"t":1733,"v":0.0039},{"t":1735,"v":0.0021},{"t":1737,"v":0.00105},{"t":1739,"v":0.0034},{"t":1741,"v":0.00155},{"t":1743,"v":0.0027},{"t":1745,"v":0.0043},{"t":1747,"v":0.00185},{"t":1749,"v":0.00095},
      {"t":1751,"v":0.0023},{"t":1753,"v":0.0036},{"t":1755,"v":0.00135},{"t":1757,"v":0.003},{"t":1759,"v":0.002},{"t":1761,"v":0.0049},{"t":1763,"v":0.0016},{"t":1765,"v":0.0025},{"t":1767,"v":0.00115},{"t":1769,"v":0.0032},
      {"t":1771,"v":0.0017},{"t":1773,"v":0.003},{"t":1775,"v":0.0023},{"t":1777,"v":0.001},{"t":1779,"v":0.0038},{"t":1781,"v":0.0014},{"t":1783,"v":0.0026},{"t":1785,"v":0.00075},{"t":1787,"v":0.002},{"t":1789,"v":0.0043},
      {"t":1791,"v":0.0016},{"t":1793,"v":0.0028},{"t":1795,"v":0.0012},{"t":1797,"v":0.0034},{"t":1799,"v":0.0009},{"t":1801,"v":0.0022},{"t":1803,"v":0.00185},{"t":1805,"v":0.004},{"t":1807,"v":0.0013},{"t":1809,"v":0.0025},
      {"t":1811,"v":0.00068},{"t":1813,"v":0.0031},{"t":1815,"v":0.00195},{"t":1817,"v":0.0011},{"t":1819,"v":0.0037},{"t":1821,"v":0.0024},{"t":1823,"v":0.0015},{"t":1825,"v":0.00085},{"t":1827,"v":0.0029},{"t":1829,"v":0.002},
      {"t":1831,"v":0.0045},{"t":1833,"v":0.00125},{"t":1835,"v":0.00175},{"t":1837,"v":0.0033},{"t":1839,"v":0.0021},{"t":1841,"v":0.00095},{"t":1843,"v":0.00145},{"t":1845,"v":0.0039},{"t":1847,"v":0.0026},{"t":1849,"v":0.00105},
      {"t":1851,"v":0.0023},{"t":1853,"v":0.0035},{"t":1855,"v":0.00165},{"t":1857,"v":0.0008},{"t":1859,"v":0.0027},{"t":1861,"v":0.00135},{"t":1863,"v":0.0041},{"t":1865,"v":0.002},{"t":1867,"v":0.00155},{"t":1869,"v":0.003},
      {"t":1871,"v":0.0024},{"t":1873,"v":0.0012},{"t":1875,"v":0.0037},{"t":1877,"v":0.0018},{"t":1879,"v":0.00095},{"t":1881,"v":0.0029},{"t":1883,"v":0.0021},{"t":1885,"v":0.0046},{"t":1887,"v":0.0014},{"t":1889,"v":0.001},
      {"t":1891,"v":0.0032},{"t":1893,"v":0.0025},{"t":1895,"v":0.0016},{"t":1897,"v":0.0008},{"t":1899,"v":0.0039},{"t":1901,"v":0.0022},{"t":1903,"v":0.0013},{"t":1905,"v":0.0027},{"t":1907,"v":0.0042},{"t":1909,"v":0.0017},
      {"t":1911,"v":0.00105},{"t":1913,"v":0.0034},{"t":1915,"v":0.002},{"t":1917,"v":0.00145},{"t":1919,"v":0.00075},{"t":1921,"v":0.003},{"t":1923,"v":0.0026},{"t":1925,"v":0.00115},{"t":1927,"v":0.0049},{"t":1929,"v":0.0019},
      {"t":1931,"v":0.0023},{"t":1933,"v":0.00135},{"t":1935,"v":0.0036},{"t":1937,"v":0.0009},{"t":1939,"v":0.0028},{"t":1941,"v":0.0016},{"t":1943,"v":0.002},{"t":1945,"v":0.004},{"t":1947,"v":0.00125},{"t":1949,"v":0.0033},
      {"t":1951,"v":0.0024},{"t":1953,"v":0.001},{"t":1955,"v":0.0018},{"t":1957,"v":0.0038},{"t":1959,"v":0.0022},{"t":1961,"v":0.0015},{"t":1963,"v":0.00085},{"t":1965,"v":0.0029},{"t":1967,"v":0.0017},{"t":1969,"v":0.0035},
      {"t":1971,"v":0.0016},{"t":1973,"v":0.0029},{"t":1975,"v":0.0011},{"t":1977,"v":0.0034},{"t":1979,"v":0.0022},{"t":1981,"v":0.00095},{"t":1983,"v":0.0026},{"t":1985,"v":0.0014},{"t":1987,"v":0.0038},{"t":1989,"v":0.0019},
      {"t":1991,"v":0.0012},{"t":1993,"v":0.0024},{"t":1995,"v":0.0031},{"t":1997,"v":0.0017},{"t":1999,"v":0.0027},
      {"t":152,"v":0.00027},{"t":179,"v":0.00031},{"t":198,"v":0.00023},{"t":156,"v":0.00012},{"t":172,"v":0.00012},{"t":197,"v":0.00011},{"t":195,"v":0.000087},{"t":206,"v":0.000085},{"t":252,"v":0.00011},{"t":248,"v":0.0001},
      {"t":286,"v":0.00012},{"t":244,"v":0.000041},{"t":298,"v":0.000053},{"t":296,"v":0.000033},{"t":250,"v":0.000013},{"t":390,"v":0.000022},{"t":326,"v":0.000095},{"t":344,"v":0.00012},{"t":347,"v":0.00021},{"t":381,"v":0.0001},
      {"t":402,"v":0.000097},{"t":413,"v":0.0001},{"t":386,"v":0.00017},{"t":402,"v":0.00027},{"t":447,"v":0.00021},{"t":455,"v":0.00015},{"t":477,"v":0.00015},{"t":505,"v":0.00013},{"t":496,"v":0.00026},{"t":542,"v":0.000022},
      {"t":562,"v":0.00022},{"t":540,"v":0.00018},{"t":569,"v":0.00013},{"t":588,"v":0.00011},{"t":620,"v":0.00012},{"t":599,"v":0.00027},{"t":645,"v":0.00023},{"t":661,"v":0.00034},{"t":700,"v":0.00031},{"t":648,"v":0.000045},
      {"t":684,"v":0.00011},{"t":712,"v":0.00014},{"t":772,"v":0.000097},{"t":776,"v":0.00014},{"t":792,"v":0.000024},{"t":783,"v":0.000012},{"t":829,"v":0.000067},{"t":856,"v":0.000073},{"t":822,"v":0.00016},{"t":868,"v":0.00016},
      {"t":907,"v":0.00015},{"t":884,"v":0.0001},{"t":918,"v":0.000071},{"t":906,"v":0.000056},{"t":925,"v":0.000047},{"t":964,"v":0.00012},{"t":985,"v":0.000056},{"t":923,"v":0.000017},{"t":1000,"v":0.000015},{"t":990,"v":0.00025},
      {"t":1047,"v":0.000072},{"t":1036,"v":0.00011},{"t":1086,"v":0.000036},{"t":1082,"v":0.000033},{"t":1079,"v":0.00016},{"t":1093,"v":0.00017},{"t":1091,"v":0.00028},{"t":1022,"v":0.00026},{"t":1137,"v":0.00014},{"t":1125,"v":0.000095},
      {"t":1173,"v":0.00012},{"t":1166,"v":0.000078},{"t":1178,"v":0.000066},{"t":1150,"v":0.000058},{"t":1174,"v":0.000027},{"t":1157,"v":0.000021},{"t":1208,"v":0.000013},{"t":1190,"v":0.00018},{"t":1231,"v":0.000066},{"t":1229,"v":0.000045},
      {"t":1251,"v":0.000041},{"t":1300,"v":0.000032},{"t":1284,"v":0.000074},{"t":1304,"v":0.000056},{"t":1293,"v":0.00012},{"t":1320,"v":0.0001},{"t":1345,"v":0.00019},{"t":1362,"v":0.000074},{"t":1373,"v":0.000056},{"t":1396,"v":0.000067},
      {"t":1384,"v":0.00012},{"t":1369,"v":0.0001},{"t":1419,"v":0.000063},{"t":1437,"v":0.000056},{"t":1430,"v":0.00011},{"t":1458,"v":0.00011},{"t":1446,"v":0.000024},{"t":1407,"v":0.000012},{"t":1419,"v":0.0002},{"t":1469,"v":0.00018},
      {"t":1483,"v":0.0002},{"t":1495,"v":0.00021},{"t":1545,"v":0.0001},{"t":1568,"v":0.00015},{"t":1587,"v":0.000086},{"t":1607,"v":0.000054},{"t":1621,"v":0.00014},{"t":1649,"v":0.000067},{"t":1630,"v":0.00023},{"t":1671,"v":0.00015},
      {"t":1690,"v":0.00019},{"t":1706,"v":0.0002},{"t":1713,"v":0.000084},{"t":1740,"v":0.000072},{"t":1759,"v":0.00011},{"t":1747,"v":0.000095},{"t":1793,"v":0.000084},{"t":1839,"v":0.000074},{"t":1844,"v":0.000034},{"t":1805,"v":0.00017},
      {"t":1855,"v":0.00012},{"t":1901,"v":0.00003},{"t":1908,"v":0.000044},{"t":1929,"v":0.000045},{"t":1901,"v":0.00012},{"t":1942,"v":0.00015},{"t":1966,"v":0.00027},{"t":1993,"v":0.00012},{"t":1936,"v":0.00019},{"t":1844,"v":0.00012},
      {"t":1883,"v":0.00017},
      {"t":215,"v":0.00045},{"t":262,"v":0.0005},{"t":318,"v":0.00042},{"t":365,"v":0.00048},{"t":420,"v":0.00038},{"t":498,"v":0.00044},{"t":530,"v":0.00052},{"t":585,"v":0.00036},{"t":610,"v":0.00047},{"t":655,"v":0.00041},
      {"t":690,"v":0.00055},{"t":735,"v":0.00046},{"t":760,"v":0.00039},{"t":805,"v":0.0005},{"t":845,"v":0.00043},{"t":890,"v":0.00037},{"t":935,"v":0.00052},{"t":960,"v":0.00045},{"t":1010,"v":0.00048},{"t":1030,"v":0.00042},
      {"t":1060,"v":0.00038},{"t":1098,"v":0.00046},{"t":1115,"v":0.00053},{"t":1140,"v":0.0004},{"t":1160,"v":0.00049},{"t":1185,"v":0.00035},{"t":1215,"v":0.00047},{"t":1245,"v":0.00043},{"t":1270,"v":0.00038},{"t":1310,"v":0.0005},
      {"t":1335,"v":0.00036},{"t":1358,"v":0.00046},{"t":1390,"v":0.00052},{"t":1415,"v":0.00041},{"t":1450,"v":0.00055},{"t":1505,"v":0.00044},{"t":1530,"v":0.00038},{"t":1560,"v":0.0005},{"t":1598,"v":0.00036},{"t":1615,"v":0.00047},
      {"t":1640,"v":0.0004},{"t":1680,"v":0.00053},{"t":1725,"v":0.00045},{"t":1770,"v":0.00039},{"t":1812,"v":0.00048},{"t":1830,"v":0.00041},{"t":1868,"v":0.00052},{"t":1890,"v":0.00037},{"t":1920,"v":0.00046},{"t":1955,"v":0.00042},
      {"t":1980,"v":0.0005},{"t":1998,"v":0.00044},
      {"t":188,"v":0.00058},{"t":236,"v":0.00062},{"t":281,"v":0.00055},{"t":333,"v":0.0006},{"t":372,"v":0.00054},{"t":447,"v":0.00063},{"t":470,"v":0.00056},{"t":515,"v":0.0006},{"t":560,"v":0.00058},{"t":632,"v":0.00062},
      {"t":668,"v":0.00057},{"t":705,"v":0.00061},{"t":748,"v":0.00054},{"t":790,"v":0.00059},{"t":830,"v":0.00063},{"t":872,"v":0.00056},{"t":915,"v":0.0006},{"t":948,"v":0.00064},{"t":1015,"v":0.0006},{"t":1045,"v":0.00057},
      {"t":1075,"v":0.00062},{"t":1108,"v":0.00055},{"t":1132,"v":0.0006},{"t":1168,"v":0.00058},{"t":1198,"v":0.00063},{"t":1228,"v":0.00056},{"t":1262,"v":0.0006},{"t":1298,"v":0.00054},{"t":1325,"v":0.00061},{"t":1352,"v":0.00057},
      {"t":1383,"v":0.00063},{"t":1425,"v":0.0006},{"t":1480,"v":0.00058},{"t":1518,"v":0.00062},{"t":1548,"v":0.00056},{"t":1585,"v":0.0006},{"t":1625,"v":0.00055},{"t":1660,"v":0.00061},{"t":1700,"v":0.00064},{"t":1745,"v":0.00058},
      {"t":1790,"v":0.00062},{"t":1825,"v":0.00056},{"t":1855,"v":0.0006},{"t":1905,"v":0.00058},{"t":1940,"v":0.00063},{"t":1972,"v":0.00057},
      {"t":240,"v":0.00036},{"t":300,"v":0.00033},{"t":455,"v":0.0004},{"t":520,"v":0.00034},{"t":600,"v":0.00039},{"t":720,"v":0.00033},{"t":850,"v":0.00035},{"t":1050,"v":0.00031},{"t":1105,"v":0.00034},{"t":1190,"v":0.00039},
      {"t":1290,"v":0.00032},{"t":1395,"v":0.00035},{"t":1575,"v":0.00033},{"t":1660,"v":0.00038},{"t":1850,"v":0.00035},{"t":1960,"v":0.00033}
    ],
    "fit": [
      {"t": 30, "v": 0.57},
      {"t": 158, "v": 0.0045}
    ],
    "note": [
      {"t": 590, "v": 0.201, "label": "abs. value of pick-up signal"},
      {"t": 590, "v": 0.069, "label": "simulated"}
    ],
    "decades": [
      {"v": 1, "e": "0"},
      {"v": 0.1, "e": "-1"},
      {"v": 0.01, "e": "-2"},
      {"v": 0.001, "e": "-3"},
      {"v": 0.0001, "e": "-4"}
    ]
  },
  "layer": [
    {
      "data": {"name": "signal"},
      "mark": {"type": "point", "shape": "circle", "filled": false, "color": "#0000ff", "size": 140, "strokeWidth": 1.6, "opacity": 1},
      "encoding": {
        "x": {
          "field": "t", "type": "quantitative",
          "scale": {"domain": [0, 2000], "nice": false, "zero": false},
          "axis": {
            "orient": "bottom", "values": [0, 500, 1000, 1500, 2000], "format": "d",
            "grid": true, "gridColor": "#333333", "gridDash": [1.5, 8.5], "gridWidth": 1.4,
            "domain": false, "tickSize": -9, "tickWidth": 1.6, "tickColor": "#262626",
            "labelFont": "DejaVu Sans", "labelFontSize": 34, "labelColor": "#000000", "labelPadding": 16, "labelFlush": false,
            "title": "turn number", "titleFont": "DejaVu Sans", "titleFontSize": 38, "titleFontWeight": "normal", "titleColor": "#000000", "titlePadding": 7
          }
        },
        "y": {
          "field": "v", "type": "quantitative",
          "scale": {"type": "log", "domain": [0.00001, 10], "nice": false},
          "axis": {
            "orient": "left", "values": [0.0001, 0.001, 0.01, 0.1, 1],
            "grid": true, "gridColor": "#333333", "gridDash": [1.5, 8.5], "gridWidth": 1.4,
            "domain": false, "tickSize": -9, "tickWidth": 1.6, "tickColor": "#262626",
            "labels": false,
            "title": "pick-up signal mm, one bunch", "titleFont": "DejaVu Sans", "titleFontSize": 40, "titleFontWeight": "normal", "titleColor": "#000000", "titlePadding": 81, "titleY": 313
          }
        }
      }
    },
    {
      "data": {"name": "fit"},
      "mark": {"type": "line", "color": "#ff0000", "strokeWidth": 1.6},
      "encoding": {
        "x": {
          "field": "t", "type": "quantitative",
          "axis": {"orient": "top", "values": [500, 1000, 1500], "grid": false, "domain": false, "labels": false, "tickSize": -9, "tickWidth": 1.6, "tickColor": "#262626", "title": null}
        },
        "y": {
          "field": "v", "type": "quantitative",
          "axis": {"orient": "right", "values": [0.0001, 0.001, 0.01, 0.1, 1], "grid": false, "domain": false, "labels": false, "tickSize": -9, "tickWidth": 1.6, "tickColor": "#262626", "title": null}
        }
      }
    },
    {
      "data": {"name": "decades"},
      "mark": {"type": "text", "text": "10", "align": "right", "baseline": "middle", "dx": -32, "dy": 1, "font": "DejaVu Sans", "fontSize": 32, "color": "#000000"},
      "encoding": {
        "x": {"datum": 0, "type": "quantitative", "axis": null},
        "y": {"field": "v", "type": "quantitative", "axis": null}
      }
    },
    {
      "data": {"name": "decades"},
      "mark": {"type": "text", "align": "left", "baseline": "middle", "dx": -30, "dy": -19, "font": "DejaVu Sans", "fontSize": 21, "color": "#000000"},
      "encoding": {
        "x": {"datum": 0, "type": "quantitative", "axis": null},
        "y": {"field": "v", "type": "quantitative", "axis": null},
        "text": {"field": "e"}
      }
    },
    {
      "data": {"name": "note"},
      "mark": {"type": "text", "align": "left", "baseline": "alphabetic", "font": "Lato", "fontSize": 44, "color": "#000000"},
      "encoding": {
        "x": {"field": "t", "type": "quantitative", "axis": null},
        "y": {"field": "v", "type": "quantitative", "axis": null},
        "text": {"field": "label"}
      }
    }
  ],
  "resolve": {"axis": {"x": "independent", "y": "independent"}}
}
